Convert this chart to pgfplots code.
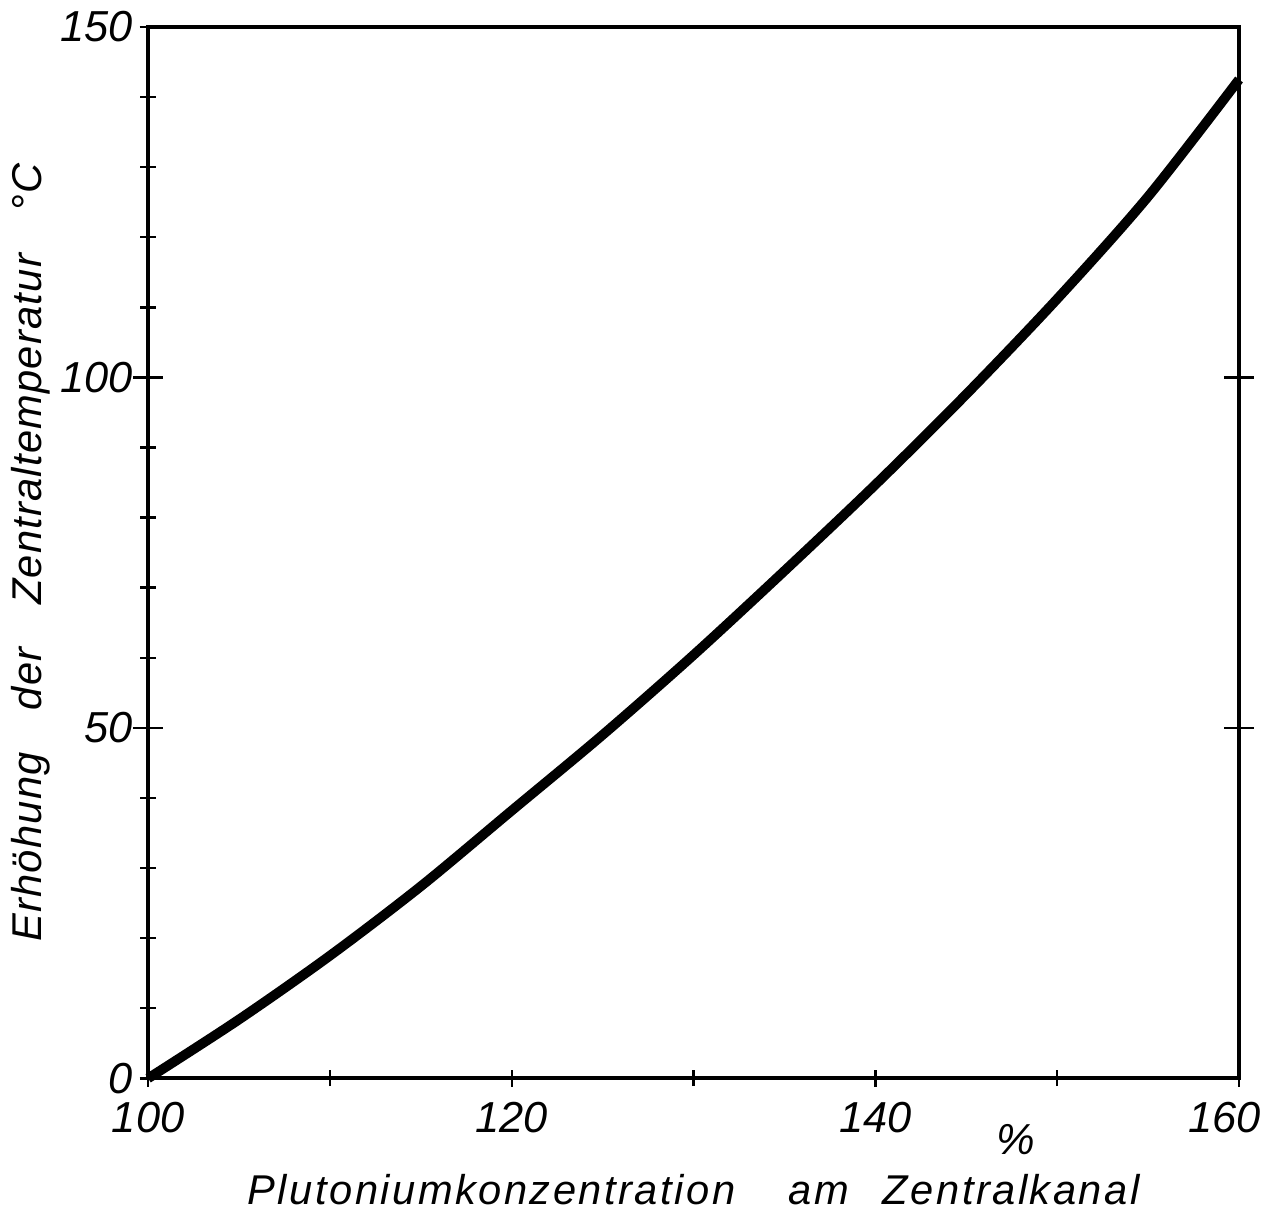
\documentclass[border=0pt]{standalone}
\usepackage{fontspec}
\setmainfont{Liberation Sans}
\usepackage{pgfplots}
\pgfplotsset{compat=1.18}
\newcommand{\xlbl}{\fontsize{12}{14}\selectfont\itshape\addfontfeature{LetterSpace=6}}
\newcommand{\ylbl}{\fontsize{12}{14}\selectfont\itshape\addfontfeature{LetterSpace=3}}
\begin{document}
\begin{tikzpicture}
\begin{axis}[
  width=11.05cm, height=10.65cm, scale only axis,
  xmin=100, xmax=160, ymin=0, ymax=150,
  xtick={100,120,140,160}, minor xtick={110,130,150},
  xticklabels={100,120,140,{\hspace*{-0.3cm}160}},
  ytick={0,50,100,150}, minor ytick={10,20,30,40,60,70,80,90,110,120,130,140},
  xtick pos=bottom, ytick pos=left,
  tick align=center,
  major tick length=0.17cm, minor tick length=0.16cm,
  tick style={black, line width=0.7pt},
  axis line style={line width=1.1pt},
  /pgf/number format/assume math mode=true,
  tick label style={font=\fontsize{12.5}{15}\selectfont\itshape},
  xticklabel style={yshift=-1pt},
  yticklabel style={xshift=1.5pt},
  xlabel={\xlbl Plutoniumkonzentration\hspace{0.4cm} am\hspace{0.2cm} Zentralkanal},
  ylabel={\ylbl Erhöhung\hspace{0.3cm} der\hspace{0.3cm} Zentraltemperatur\hspace{0.3cm} °C},
  xlabel style={yshift=-5pt},
  ylabel style={yshift=-4pt},
  clip=false,
]
\addplot[black, line width=2.8pt, smooth] coordinates {
  (100,0) (105,8.4) (110,17.5) (115,27.4) (120,38.2) (125,49.0)
  (130,60.4) (135,72.4) (140,84.7) (145,97.6) (150,111.2)
  (155,125.8) (160,142.5)
};
\node[font=\fontsize{12.5}{15}\selectfont\itshape] at (axis cs:147.7,0) [yshift=-0.62cm] {\%};
\end{axis}
\begin{axis}[
  width=11.05cm, height=10.65cm, scale only axis,
  xmin=100, xmax=160, ymin=0, ymax=150,
  hide x axis,
  ytick pos=both,
  ytick={50,100}, yticklabels={},
  tick align=center, major tick length=0.3cm,
  tick style={black, line width=0.7pt},
  axis line style={line width=1.1pt},
]
\addplot[draw=none] coordinates {(100,0) (160,150)};
\end{axis}
\end{tikzpicture}
\end{document}
